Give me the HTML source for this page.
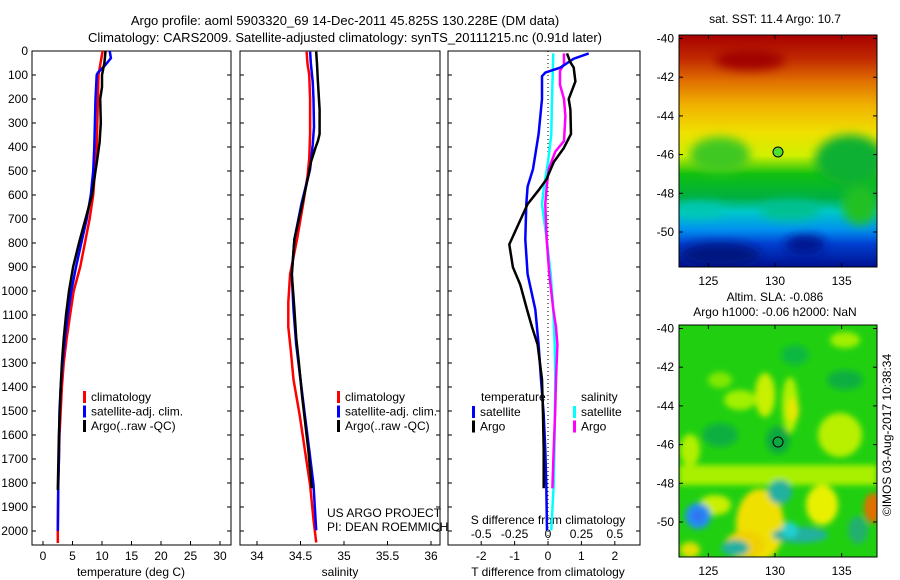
<!DOCTYPE html>
<html><head><meta charset="utf-8"><style>
body{margin:0;background:#fff}
svg{display:block;font-family:"Liberation Sans",sans-serif}
text{font-size:12px;fill:#000}
</style></head><body>
<svg id="c" width="900" height="580" viewBox="0 0 900 580">
<defs>
<filter id="bl" x="-20%" y="-20%" width="140%" height="140%"><feGaussianBlur stdDeviation="5"/></filter>
<filter id="bl2" x="-30%" y="-30%" width="160%" height="160%"><feGaussianBlur stdDeviation="3"/></filter>
<linearGradient id="sst" x1="0" y1="0" x2="0" y2="1">
<stop offset="0" stop-color="#a80000"/><stop offset="0.1" stop-color="#c02800"/>
<stop offset="0.2" stop-color="#e07000"/><stop offset="0.3" stop-color="#f0b000"/>
<stop offset="0.42" stop-color="#f0e000"/><stop offset="0.52" stop-color="#d0f000"/>
<stop offset="0.6" stop-color="#10c010"/><stop offset="0.7" stop-color="#00b040"/>
<stop offset="0.76" stop-color="#00c8c8"/><stop offset="0.84" stop-color="#0090f0"/>
<stop offset="0.9" stop-color="#0040d0"/><stop offset="1" stop-color="#001090"/>
</linearGradient>
<clipPath id="m1"><rect x="679" y="35" width="198" height="232"/></clipPath>
<clipPath id="m2"><rect x="679" y="325" width="198" height="232"/></clipPath>
</defs>
<text x="345" y="25" text-anchor="middle" style="font-size:13px">Argo profile: aoml 5903320_69 14-Dec-2011 45.825S 130.228E (DM data)</text>
<text x="345" y="42" text-anchor="middle" style="font-size:13px">Climatology: CARS2009. Satellite-adjusted climatology: synTS_20111215.nc (0.91d later)</text>
<g id="g1"></g>
<g id="g2"></g>
<g id="g3"></g>
<g id="maps">
<g clip-path="url(#m1)">
<rect x="679" y="35" width="198" height="232" fill="url(#sst)"/>
<g filter="url(#bl)">
<ellipse cx="720" cy="155" rx="30" ry="18" fill="#40c820"/>
<ellipse cx="850" cy="160" rx="35" ry="25" fill="#10b030"/>
<ellipse cx="860" cy="205" rx="18" ry="20" fill="#20c020"/>
<ellipse cx="700" cy="210" rx="25" ry="8" fill="#00c8b0"/>
<ellipse cx="790" cy="210" rx="30" ry="10" fill="#00c090"/>
<ellipse cx="720" cy="255" rx="40" ry="12" fill="#001880"/>
<ellipse cx="805" cy="245" rx="20" ry="10" fill="#001890"/>
<ellipse cx="750" cy="60" rx="35" ry="10" fill="#a00000"/>
</g>
</g>
<rect x="679" y="35" width="198" height="232" fill="none" stroke="#000"/>
<circle cx="778" cy="152" r="5" fill="#50e030" stroke="#000"/>
<g clip-path="url(#m2)">
<rect x="679" y="325" width="198" height="232" fill="#20d010"/>
<g filter="url(#bl2)">
<rect x="679" y="465" width="198" height="20" fill="#a8f000"/>
<ellipse cx="765" cy="395" rx="10" ry="22" fill="#c8f000"/>
<ellipse cx="790" cy="405" rx="8" ry="28" fill="#b0f000"/>
<ellipse cx="793" cy="410" rx="6" ry="12" fill="#e8e800"/>
<ellipse cx="740" cy="400" rx="16" ry="10" fill="#a0f000"/>
<ellipse cx="720" cy="380" rx="12" ry="8" fill="#80e800"/>
<ellipse cx="840" cy="435" rx="22" ry="22" fill="#b8f000"/>
<ellipse cx="690" cy="450" rx="10" ry="16" fill="#b0f000"/>
<ellipse cx="845" cy="340" rx="15" ry="8" fill="#a0f000"/>
<ellipse cx="720" cy="435" rx="18" ry="12" fill="#10b040"/>
<ellipse cx="778" cy="440" rx="12" ry="14" fill="#10a840"/>
<ellipse cx="845" cy="380" rx="18" ry="10" fill="#10b040"/>
<ellipse cx="795" cy="355" rx="14" ry="10" fill="#10b840"/>
<ellipse cx="760" cy="525" rx="24" ry="36" fill="#f0e000"/>
<ellipse cx="745" cy="545" rx="20" ry="14" fill="#f0d000"/>
<ellipse cx="715" cy="505" rx="16" ry="10" fill="#c8f000"/>
<ellipse cx="822" cy="505" rx="16" ry="20" fill="#e8f000"/>
<ellipse cx="780" cy="492" rx="12" ry="12" fill="#20b0a0"/>
<ellipse cx="800" cy="535" rx="28" ry="8" fill="#20b0a0"/>
<ellipse cx="790" cy="530" rx="8" ry="8" fill="#20d0d0"/>
<ellipse cx="698" cy="516" rx="13" ry="13" fill="#2090f0"/>
<ellipse cx="698" cy="516" rx="6" ry="6" fill="#3070f0"/>
<ellipse cx="735" cy="548" rx="14" ry="8" fill="#20b0a0"/>
<ellipse cx="690" cy="550" rx="10" ry="8" fill="#e0e000"/>
<ellipse cx="873" cy="508" rx="9" ry="15" fill="#e07000"/>
<ellipse cx="858" cy="530" rx="10" ry="14" fill="#20b070"/>
</g>
</g>
<rect x="679" y="325" width="198" height="232" fill="none" stroke="#000"/>
<circle cx="778" cy="442" r="5" fill="none" stroke="#000"/>
<text x="775" y="23" text-anchor="middle">sat. SST: 11.4 Argo: 10.7</text>
<text x="775" y="301" text-anchor="middle">Altim. SLA: -0.086</text>
<text x="775" y="316" text-anchor="middle">Argo h1000: -0.06 h2000: NaN</text>
<text transform="translate(891,435) rotate(-90)" text-anchor="middle">©IMOS 03-Aug-2017 10:38:34</text>
</g>
<text x="327" y="517">US ARGO PROJECT</text>
<text x="327" y="531">PI: DEAN ROEMMICH</text>
</svg>
<script>
// ---- data ----
const tempClimDepth=[0,100,400,500,600,700,800,900,1000,1100,1200,1300,1400,1500,1600,1700,1800,2000,2050];
const tempClim=[10.1,9.4,9.1,8.8,8.5,7.9,7.1,6.3,5.2,4.6,4.0,3.5,3.2,3.0,2.8,2.7,2.6,2.5,2.5];
const tempSatDepth=[0,30,60,90,100,200,400,500,600,700,800,900,1000,1100,1200,1300,1400,1500,1700,1800,2000];
const tempSat=[11.3,11.5,10.5,9.3,9.1,8.9,8.7,8.5,8.1,7.4,6.5,5.6,4.8,4.2,3.7,3.3,3.0,2.8,2.7,2.6,2.5];
const tempArgoDepth=[0,50,100,150,200,300,380,450,500,600,700,800,900,1000,1100,1200,1300,1400,1600,1830];
const tempArgo=[10.6,10.4,10.0,10.0,9.7,9.8,9.6,9.2,8.9,8.3,7.2,6.1,5.1,4.4,3.9,3.5,3.2,3.0,2.7,2.5];
const salClimDepth=[3,54,98,200,346,449,522,638,785,930,1047,1150,1252,1369,1515,1661,1808,1953,2048];
const salClim=[34.57,34.58,34.60,34.61,34.61,34.60,34.58,34.53,34.46,34.38,34.36,34.36,34.39,34.42,34.49,34.55,34.61,34.65,34.68];
const salSatDepth=[3,54,127,200,317,390,492,565,638,785,930,1077,1223,1369,1515,1661,1808,1997];
const salSat=[34.61,34.62,34.64,34.65,34.655,34.64,34.61,34.56,34.51,34.43,34.40,34.42,34.45,34.50,34.55,34.60,34.65,34.68];
const salArgoDepth=[3,54,127,244,346,375,405,463,522,638,785,930,1077,1194,1296,1442,1661,1822];
const salArgo=[34.68,34.69,34.70,34.72,34.72,34.70,34.67,34.62,34.59,34.52,34.43,34.40,34.43,34.45,34.48,34.52,34.59,34.63];
const dTSatDepth=[10,32,69,90,105,200,346,492,565,638,785,930,1077,1223,1369,1515,1662,1808,1997];
const dTSat=[1.22,0.77,0.37,-0.08,-0.18,-0.18,-0.28,-0.45,-0.61,-0.65,-0.68,-0.61,-0.38,-0.28,-0.21,-0.13,-0.08,-0.05,-0.03];
const dTArgoDepth=[10,47,69,127,200,244,346,405,463,536,580,638,711,806,901,974,1077,1150,1223,1369,1515,1661,1822];
const dTArgo=[0.57,0.67,0.77,0.82,0.62,0.67,0.69,0.47,0.17,-0.05,-0.28,-0.61,-0.85,-1.16,-1.05,-0.83,-0.63,-0.48,-0.31,-0.18,-0.15,-0.13,-0.13];
const dSSatDepth=[10,200,346,463,565,638,785,930,1077,1223,1369,1661,1808,1997];
const dSSat=[0.04,0.03,0.025,0,-0.03,-0.045,-0.01,0.02,0.04,0.05,0.055,0.048,0.043,0.025];
const dSArgoDepth=[10,54,83,141,200,273,375,419,492,565,638,785,930,1077,1150,1223,1296,1369,1515,1661,1822];
const dSArgo=[0.12,0.12,0.09,0.09,0.12,0.13,0.12,0.055,0.005,-0.01,-0.02,-0.01,0.01,0.04,0.06,0.07,0.065,0.06,0.053,0.043,0.033];
const depthTicks=[0,100,200,300,400,500,600,700,800,900,1000,1100,1200,1300,1400,1500,1600,1700,1800,1900,2000];
const tempTicks=[0,5,10,15,20,25,30];
const salTicks=[34,34.5,35,35.5,36];
const dTTicks=[-2,-1,0,1,2];
const dSTicks=[-0.5,-0.25,0,0.25,0.5];
const latTicks=[-40,-42,-44,-46,-48,-50];
const lonTicks=[125,130,135];
// ---- scales ----
const NS='http://www.w3.org/2000/svg';
const yD=d=>51+d*0.24;
const xT=v=>43+v*5.9;
const xS=v=>257+(v-34)*87;
const xDT=v=>548+v*33.4;
const xDS=v=>548+v*133.6;
const yLat1=l=>38.5+(-40-l)*19.35;
const yLat2=l=>328.5+(-40-l)*19.35;
const xLon=l=>775+(l-130)*13.33;
function mk(parent,tag,attrs){const e=document.createElementNS(NS,tag);for(const k in attrs)e.setAttribute(k,attrs[k]);parent.appendChild(e);return e;}
function line(parent,depths,vals,xf,color,name){
  const pts=depths.map((d,i)=>xf(vals[i]).toFixed(1)+','+yD(d).toFixed(1)).join(' ');
  const p=mk(parent,'polyline',{points:pts,fill:'none',stroke:color,'stroke-width':2.5});
  
  
}
function txt(parent,x,y,s,anchor,name){const t=mk(parent,'text',{x:x,y:y,'text-anchor':anchor||'start'});t.textContent=s;
  
  
  return t;}
function frame(parent,x0,x1,name){
  const r=mk(parent,'rect',{x:x0,y:51,width:x1-x0,height:494,fill:'none',stroke:'#000'});
  
  
}
function legend(parent,x,y,items){
  items.forEach((it,i)=>{
    const b=mk(parent,'rect',{x:x,y:y+i*14.5-9,width:3,height:12,fill:it[1]});
    
    
    txt(parent,x+8,y+i*14.5+1,it[0],'start','legend-entry');
  });
}
const g1=document.getElementById('g1'),g2=document.getElementById('g2'),g3=document.getElementById('g3'),gm=document.getElementById('maps');
// panel 1
frame(g1,32,231,'temperature-frame');
depthTicks.forEach(d=>{txt(g1,28,yD(d)+4,String(d),'end','depth-tick-label');
  mk(g1,'line',{x1:32,x2:36,y1:yD(d),y2:yD(d),stroke:'#000'});
  mk(g1,'line',{x1:231,x2:227,y1:yD(d),y2:yD(d),stroke:'#000'});});
tempTicks.forEach(v=>{txt(g1,xT(v),560,String(v),'middle','temperature-tick-label');
  mk(g1,'line',{x1:xT(v),x2:xT(v),y1:545,y2:541,stroke:'#000'});});
txt(g1,131,576,'temperature (deg C)','middle','temperature-axis-title');
line(g1,tempClimDepth,tempClim,xT,'#ff0000','temp-climatology-line');
line(g1,tempSatDepth,tempSat,xT,'#0000ff','temp-satellite-line');
line(g1,tempArgoDepth,tempArgo,xT,'#000000','temp-argo-line');
legend(g1,83,400,[['climatology','#f00'],['satellite-adj. clim.','#00f'],['Argo(..raw -QC)','#000']]);
// panel 2
frame(g2,240,440,'salinity-frame');
depthTicks.forEach(d=>{mk(g2,'line',{x1:240,x2:244,y1:yD(d),y2:yD(d),stroke:'#000'});mk(g2,'line',{x1:440,x2:436,y1:yD(d),y2:yD(d),stroke:'#000'});});
salTicks.forEach(v=>{txt(g2,xS(v),560,String(v),'middle','salinity-tick-label');
  mk(g2,'line',{x1:xS(v),x2:xS(v),y1:545,y2:541,stroke:'#000'});});
txt(g2,340,576,'salinity','middle','salinity-axis-title');
line(g2,salClimDepth,salClim,xS,'#ff0000','sal-climatology-line');
line(g2,salSatDepth,salSat,xS,'#0000ff','sal-satellite-line');
line(g2,salArgoDepth,salArgo,xS,'#000000','sal-argo-line');
legend(g2,337,400,[['climatology','#f00'],['satellite-adj. clim.','#00f'],['Argo(..raw -QC)','#000']]);
// panel 3
frame(g3,448,640,'difference-frame');
depthTicks.forEach(d=>{mk(g3,'line',{x1:448,x2:452,y1:yD(d),y2:yD(d),stroke:'#000'});mk(g3,'line',{x1:640,x2:636,y1:yD(d),y2:yD(d),stroke:'#000'});});
mk(g3,'line',{x1:xDT(0),x2:xDT(0),y1:51,y2:545,stroke:'#000','stroke-dasharray':'1,3'});
dTTicks.forEach(v=>{txt(g3,xDT(v),560,String(v),'middle','t-diff-tick-label');
  mk(g3,'line',{x1:xDT(v),x2:xDT(v),y1:545,y2:541,stroke:'#000'});});
dSTicks.forEach(v=>{txt(g3,xDS(v),538,String(v),'middle','s-diff-tick-label');});
txt(g3,548,524,'S difference from climatology','middle','s-diff-axis-title');
txt(g3,548,576,'T difference from climatology','middle','t-diff-axis-title');
line(g3,dSSatDepth,dSSat,xDS,'#00ffff','s-diff-satellite-line');
line(g3,dSArgoDepth,dSArgo,xDS,'#ff00ff','s-diff-argo-line');
line(g3,dTSatDepth,dTSat,xDT,'#0000ff','t-diff-satellite-line');
line(g3,dTArgoDepth,dTArgo,xDT,'#000000','t-diff-argo-line');
txt(g3,481,401,'temperature','start','legend-temperature-heading');
legend(g3,472,415,[['satellite','#00f'],['Argo','#000']]);
txt(g3,581,401,'salinity','start','legend-salinity-heading');
legend(g3,573,415,[['satellite','#0ff'],['Argo','#f0f']]);
// map axes
[[yLat1,35,267],[yLat2,325,557]].forEach(([yf,y0,y1])=>{
  latTicks.forEach(l=>{txt(gm,674,yf(l)+4,String(l),'end','latitude-tick-label');
    mk(gm,'line',{x1:679,x2:683,y1:yf(l),y2:yf(l),stroke:'#000'});
    mk(gm,'line',{x1:877,x2:873,y1:yf(l),y2:yf(l),stroke:'#000'});});
  lonTicks.forEach(l=>{txt(gm,xLon(l),y1+18,String(l),'middle','longitude-tick-label');
    mk(gm,'line',{x1:xLon(l),x2:xLon(l),y1:y1,y2:y1-4,stroke:'#000'});
    mk(gm,'line',{x1:xLon(l),x2:xLon(l),y1:y0,y2:y0+4,stroke:'#000'});});
});
</script>
</body></html>
